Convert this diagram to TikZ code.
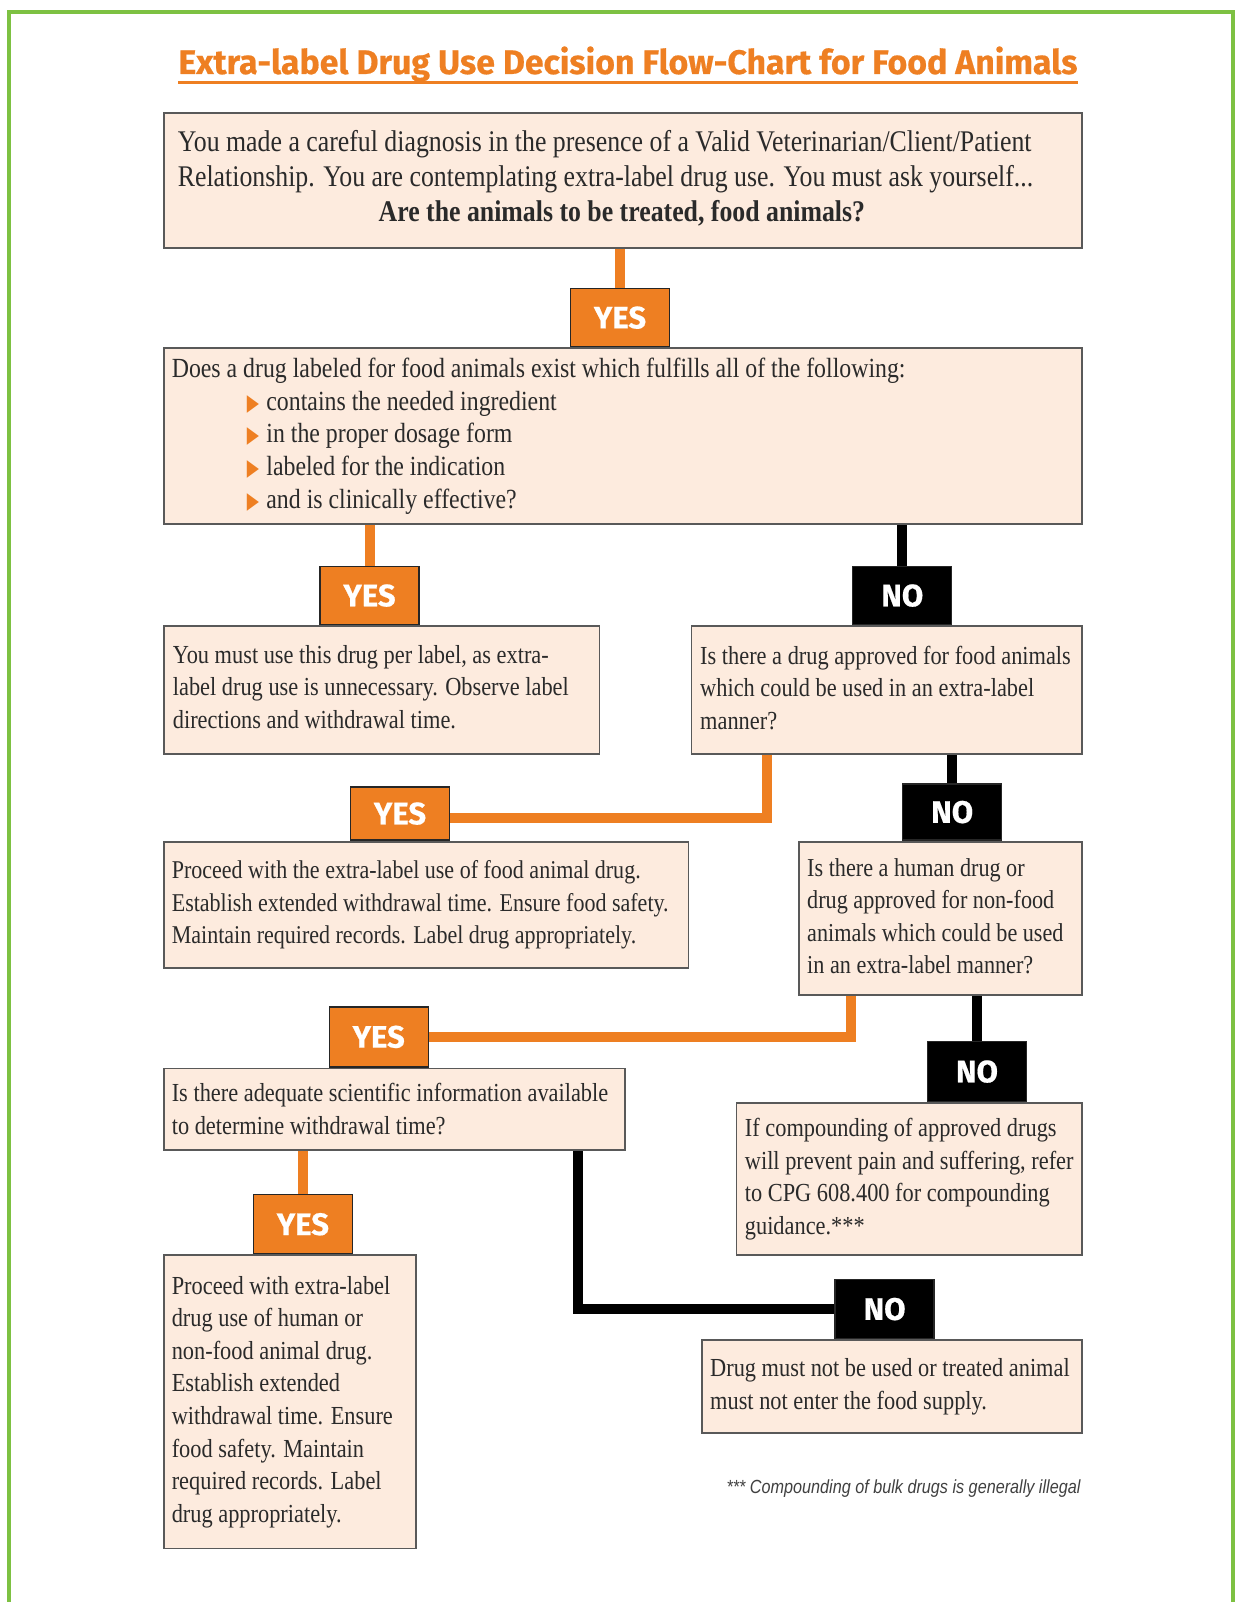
\documentclass[tikz,border=0pt]{standalone}
\usepackage{fontspec}
\usepackage{graphicx}
\setmainfont{Liberation Serif}[FakeStretch=0.86]
\newfontfamily\tagfont{Fira Sans}[BoldFeatures={FakeBold=0.5}]
\newfontfamily\notefont{Liberation Sans}
\newfontfamily\symfont{DejaVu Sans}
\usetikzlibrary{backgrounds}
\definecolor{orng}{HTML}{EE7F22}
\definecolor{peach}{HTML}{FDEBDE}
\definecolor{grn}{HTML}{7DC142}
\definecolor{txt}{HTML}{2A2A2A}
\newcommand{\bitem}{\hspace*{75pt}\makebox[19.6pt][l]{\raisebox{0pt}{\scalebox{0.72}[1.05]{\symfont\color{orng}\fontsize{22}{22}\selectfont ▶}}}}
\begin{document}
\begin{tikzpicture}[x=1pt,y=-1pt,
  box/.style={draw=black!65, line width=1.8pt, fill=peach, inner sep=0pt, anchor=north west},
  btext/.style={inner sep=0pt, anchor=west, align=left, text=txt, font=\fontsize{26}{32.6}\selectfont},
  tagy/.style={fill=orng, draw=black!85, line width=1.3pt, minimum width=99pt, minimum height=58pt, inner sep=0pt, anchor=south, text=white, font=\tagfont\bfseries\fontsize{31}{31}\selectfont},
  tagn/.style={tagy, fill=black},
  oline/.style={draw=orng, line width=10pt},
  kline/.style={draw=black, line width=10pt}]
\useasboundingbox (0,0) rectangle (1235,1602);

% title
\node[inner sep=0pt, anchor=base, text=orng] (title) at (628,74)
  {\resizebox{899pt}{\height}{\tagfont\bfseries\fontsize{34}{34}\selectfont Extra-label Drug Use Decision Flow-Chart for Food Animals}};
\draw[orng, line width=2.4pt] ([yshift=-8.5pt]title.base west) -- ([yshift=-8.5pt]title.base east);

% boxes
\node[box, minimum width=917.3pt, minimum height=134.8pt] (b1) at (163.4,112.4) {};
\node[box, minimum width=917.3pt, minimum height=175.7pt] (b2) at (163.4,347.3) {};
\node[box, minimum width=435.2pt, minimum height=127.6pt] (b3) at (163.4,625.2) {};
\node[box, minimum width=390.2pt, minimum height=127.6pt] (b4) at (690.5,625.2) {};
\node[box, minimum width=524.1pt, minimum height=126.7pt] (b5) at (163.4,840.7) {};
\node[box, minimum width=282.9pt, minimum height=153.2pt] (b6) at (797.8,840.7) {};
\node[box, minimum width=460.7pt, minimum height=81.7pt] (b7) at (163.4,1067.5) {};
\node[box, minimum width=345.2pt, minimum height=152.2pt] (b8) at (735.5,1102.2) {};
\node[box, minimum width=251.3pt, minimum height=293.2pt] (b9) at (163.4,1254.4) {};
\node[box, minimum width=380pt, minimum height=92.8pt] (b10) at (700.7,1339.2) {};

% texts
\node[btext, font=\fontsize{30}{35}\selectfont] (t1) at ([xshift=14.3pt,yshift=2pt]b1.west)
  {You made a careful diagnosis in the presence of a Valid Veterinarian/Client/Patient\\
   Relationship. You are contemplating extra-label drug use. You must ask yourself...\\
   \makebox[888pt][c]{\bfseries Are the animals to be treated, food animals?}};
\node[btext, font=\fontsize{27.7}{32.6}\selectfont] (t2) at ([xshift=8.2pt]b2.west)
  {Does a drug labeled for food animals exist which fulfills all of the following:\\
   \bitem contains the needed ingredient\\
   \bitem in the proper dosage form\\
   \bitem labeled for the indication\\
   \bitem and is clinically effective?};
\node[btext] (t3) at ([xshift=9.3pt,yshift=3pt]b3.west)
  {You must use this drug per label, as extra-\\label drug use is unnecessary. Observe label\\directions and withdrawal time.};
\node[btext] (t4) at ([xshift=9.5pt,yshift=2pt]b4.west)
  {Is there a drug approved for food animals\\which could be used in an extra-label\\manner?};
\node[btext, font=\fontsize{25.6}{32.6}\selectfont] (t5) at ([xshift=8.2pt]b5.west)
  {Proceed with the extra-label use of food animal drug.\\Establish extended withdrawal time. Ensure food safety.\\Maintain required records. Label drug appropriately.};
\node[btext, font=\fontsize{25.8}{32.6}\selectfont] (t6) at ([xshift=9.2pt,yshift=2pt]b6.west)
  {Is there a human drug or\\drug approved for non-food\\animals which could be used\\in an extra-label manner?};
\node[btext] (t7) at ([xshift=8.2pt]b7.west)
  {Is there adequate scientific information available\\to determine withdrawal time?};
\node[btext] (t8) at ([xshift=9.2pt]b8.west)
  {If compounding of approved drugs\\will prevent pain and suffering, refer\\to CPG 608.400 for compounding\\guidance.***};
\node[btext] (t9) at ([xshift=8.2pt]b9.west)
  {Proceed with extra-label\\drug use of human or\\non-food animal drug.\\Establish extended\\withdrawal time. Ensure\\food safety. Maintain\\required records. Label\\drug appropriately.};
\node[btext] (t10) at ([xshift=9.3pt]b10.west)
  {Drug must not be used or treated animal\\must not enter the food supply.};

% tags
\node[tagy] (y1) at (620,347.3) {YES};
\node[tagy] (y2) at (369.5,625.2) {YES};
\node[tagn] (n1) at (902.3,625.2) {NO};
\node[tagy, minimum height=53pt] (y3) at (400,840.7) {YES};
\node[tagn, minimum height=56pt] (n2) at (952.2,840.7) {NO};
\node[tagy, minimum height=60pt] (y4) at (378.7,1067.5) {YES};
\node[tagn, minimum height=60pt] (n3) at (977,1102.2) {NO};
\node[tagy, minimum height=59pt] (y5) at (302.9,1254.4) {YES};
\node[tagn, minimum height=59pt] (n4) at (884.6,1339.2) {NO};

% footnote
\node[inner sep=0pt, anchor=base east, text=black!75] (note) at (1080.7,1493)
  {\resizebox{354pt}{\height}{\notefont\itshape\fontsize{19}{19}\selectfont *** Compounding of bulk drugs is generally illegal}};

% frame
\draw[grn, line width=4pt] (8.5,1602) -- (8.5,12.5) -- (1233.3,12.5) -- (1233.3,1602);

% connectors
\coordinate (c1) at (766.5,818);
\coordinate (c2) at (851,1036.7);
\coordinate (c3) at (578.3,1309.3);
\begin{scope}[on background layer]
\fill[white] (0,0) rectangle (1235,1602);
\draw[oline] (b1.south -| y1) -- (y1.north);
\draw[oline] (b2.south -| y2) -- (y2.north);
\draw[kline] (b2.south -| n1) -- (n1.north);
\draw[oline] (b4.south -| c1) -- (c1) -- (c1 -| y3.east);
\draw[kline] (b4.south -| n2) -- (n2.north);
\draw[oline] (b6.south -| c2) -- (c2) -- (c2 -| y4.east);
\draw[kline] (b6.south -| n3) -- (n3.north);
\draw[oline] (b7.south -| y5) -- (y5.north);
\draw[kline] (b7.south -| c3) -- (c3) -- (c3 -| n4.west);
\end{scope}
\end{tikzpicture}
\end{document}
